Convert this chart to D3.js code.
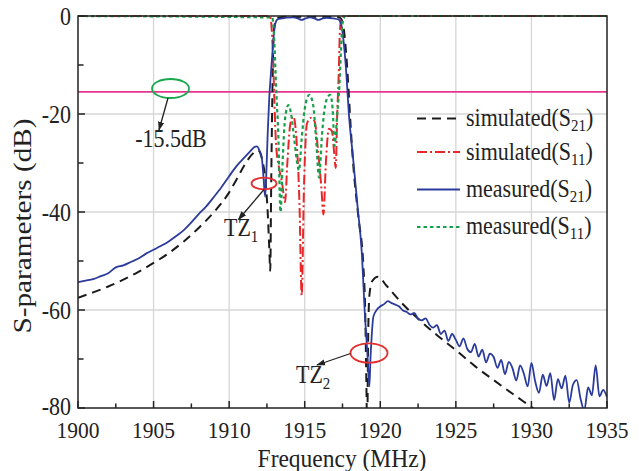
<!DOCTYPE html>
<html><head><meta charset="utf-8">
<script src="https://cdn.jsdelivr.net/npm/d3@7"></script>
<style>body{margin:0;background:#fff}</style></head>
<body><svg id="c" width="639" height="471"></svg>
<script>
// ---------- data ----------
const xTicks = [1900,1905,1910,1915,1920,1925,1930,1935];
const yTicks = [0,-20,-40,-60,-80];
const refLevel = -15.5;
const legendNames = ["simulated","simulated","measured","measured"];
const legendSubs = ["21","11","21","11"];

const simS21 = [[1900,-57.5],[1901,-56.4],[1902,-55.2],[1903,-53.8],[1904,-52.2],[1905,-50.4],[1906,-48.4],[1907,-46.0],[1908,-43.2],[1909,-40.0],[1910,-36.0],[1910.5,-33.3],[1911,-30.5],[1911.5,-28.3],[1911.9,-27.4],[1912.2,-29.5],[1912.4,-33.5],[1912.55,-40],[1912.65,-47],[1912.72,-52],[1912.78,-35],[1912.85,-18],[1912.92,-6],[1913.0,-2],[1913.15,-0.5],[1913.5,-0.2],[1914,-0.15],[1914.5,-0.2],[1915,-0.15],[1915.5,-0.2],[1916,-0.15],[1916.5,-0.2],[1917,-0.2],[1917.3,-0.3],[1917.45,-0.8],[1917.6,-3],[1917.75,-8],[1917.9,-15],[1918.0,-20.5],[1918.22,-30.7],[1918.55,-41],[1918.88,-51],[1919.0,-60],[1919.08,-75],[1919.13,-85],[1919.2,-65],[1919.28,-57],[1919.45,-54.2],[1919.85,-53.2],[1920.4,-55],[1921.4,-58.5],[1922.4,-61.5],[1923.7,-65],[1925,-68.2],[1926.2,-71.3],[1927.5,-74.3],[1928.8,-77.2],[1930,-79.8],[1931,-82]];

const simS11 = [[1900,0],[1912.7,0],[1912.8,-2],[1912.9,-8],[1913.0,-18],[1913.1,-26],[1913.3,-31],[1913.5,-34],[1913.7,-38],[1913.85,-30],[1914.05,-22],[1914.25,-20.5],[1914.45,-25],[1914.65,-38],[1914.8,-57],[1914.95,-35],[1915.15,-22],[1915.4,-20.8],[1915.65,-21.5],[1915.9,-28],[1916.1,-35],[1916.24,-40.5],[1916.4,-30],[1916.6,-23],[1916.8,-23.5],[1916.95,-28],[1917.05,-31],[1917.15,-20],[1917.25,-12],[1917.33,-3],[1917.45,-0.5],[1917.6,0],[1935,0]];

const measS21 = [[1900,-54.3],[1900.5,-54.0],[1901,-53.7],[1901.5,-53.1],[1902,-52.5],[1902.5,-51.3],[1903,-50.9],[1903.5,-50.2],[1904,-49.5],[1904.5,-48.5],[1905,-47.7],[1905.5,-46.9],[1906,-46.0],[1906.5,-44.9],[1907,-43.7],[1907.5,-42.1],[1908,-40.4],[1908.5,-38.8],[1909,-36.9],[1909.5,-34.9],[1910,-32.7],[1910.5,-30.6],[1911,-28.9],[1911.4,-27.6],[1911.65,-26.8],[1911.83,-26.6],[1912.0,-27.4],[1912.16,-28.9],[1912.27,-32.8],[1912.38,-36.9],[1912.45,-33],[1912.55,-24],[1912.65,-17],[1912.78,-11],[1912.9,-6],[1913.0,-2.5],[1913.1,-1.1],[1913.2,-0.7],[1913.5,-0.5],[1913.8,-0.35],[1914.25,-0.3],[1914.55,-0.5],[1914.8,-0.8],[1915.05,-0.5],[1915.35,-0.3],[1915.65,-0.5],[1915.9,-0.8],[1916.2,-0.5],[1916.45,-0.4],[1916.9,-0.5],[1917.23,-0.7],[1917.35,-1.2],[1917.45,-2.2],[1917.6,-6],[1917.72,-10.3],[1917.82,-15],[1917.9,-19],[1918.2,-29],[1918.5,-39],[1918.77,-48],[1918.99,-61.4],[1919.15,-69],[1919.28,-75.6],[1919.35,-70],[1919.43,-65.4],[1919.54,-61.4],[1919.76,-60],[1919.99,-59.3],
[1920.25,-58.8],[1920.5,-58.2],[1920.75,-58.6],[1921.0,-58.9],[1921.25,-59.3],[1921.5,-60.1],[1921.75,-60.4],[1922.0,-60.9],[1922.25,-60.6],[1922.5,-61.8],[1922.75,-62.1],[1923.0,-61.7],[1923.25,-63.0],[1923.5,-63.6],[1923.75,-63.1],[1924.0,-64.9],[1924.25,-64.2],[1924.5,-66.3],[1924.75,-64.9],[1925.0,-66.1],[1925.25,-67.4],[1925.5,-65.8],[1925.75,-67.9],[1926.0,-68.6],[1926.25,-66.9],[1926.5,-69.5],[1926.75,-68.1],[1927.0,-70.7],[1927.25,-68.9],[1927.5,-69.6],[1927.75,-71.8],[1928.0,-70.2],[1928.25,-73.1],[1928.5,-70.6],[1928.75,-71.9],[1929.0,-74.4],[1929.25,-71.3],[1929.5,-73.0],[1929.75,-75.6],[1930.0,-70.8],[1930.25,-74.6],[1930.5,-76.9],[1930.75,-73.2],[1931.0,-75.5],[1931.25,-72.9],[1931.5,-78.4],[1931.75,-74.1],[1932.0,-76.0],[1932.25,-73.4],[1932.5,-78.9],[1932.75,-75.2],[1933.0,-74.3],[1933.25,-78.1],[1933.5,-80.5],[1933.75,-75.8],[1934.0,-77.4],[1934.25,-71.3],[1934.5,-77.6],[1934.75,-76.3],[1935.0,-77.8]];

const measS11 = [[1900,0],[1912.85,-0.3],[1912.9,-1],[1913.0,-6],[1913.1,-14],[1913.25,-24],[1913.4,-40],[1913.55,-29],[1913.7,-21],[1913.92,-18.2],[1914.1,-20],[1914.3,-25],[1914.5,-30],[1914.62,-31.5],[1914.8,-25],[1915.0,-19],[1915.3,-16.1],[1915.55,-18],[1915.75,-25],[1915.95,-33],[1916.15,-24],[1916.4,-17.5],[1916.68,-16.1],[1916.85,-19],[1916.97,-26.5],[1917.15,-20],[1917.3,-14],[1917.4,-7],[1917.5,-1.5],[1917.6,-0.3],[1917.7,0],[1935,0]];

// ---------- layout ----------
const L=78, R=607, T=16, B=408, SY=1.15;
const FONT = "'Liberation Serif','Times New Roman',serif";
const svg = d3.select("#c");
const x = d3.scaleLinear().domain([1900,1935]).range([L,R]);
const y = d3.scaleLinear().domain([-80,0]).range([B,T]);

const C = {black:"#1b1b1b", red:"#e8272a", blue:"#2a3b9b", green:"#16a04c", mag:"#e6358c"};
const styles = [
  {data:simS21, color:C.black, dash:"9,6", w:2},
  {data:simS11, color:C.red, dash:"10,3,2,3", w:2},
  {data:measS21, color:C.blue, dash:null, w:1.8},
  {data:measS11, color:C.green, dash:"3.5,3", w:2.2}
];

function txt(px, py, str, size, anchor, sub, subSize, sy){
  const g = svg.append("g").attr("transform",`translate(${px},${py}) scale(1,${sy||SY})`);
  const t = g.append("text").attr("font-family",FONT).attr("font-size",size)
    .attr("text-anchor",anchor||"start").attr("fill","#222");
  t.append("tspan").text(str);
  if(sub){
    t.append("tspan").attr("font-size",subSize||size*0.68).attr("dy",size*0.22).text(sub);
  }
  return t;
}

// defs
const defs = svg.append("defs");
defs.append("clipPath").attr("id","clip").append("rect")
  .attr("x",L).attr("y",T-3).attr("width",R-L).attr("height",B-T+3);
defs.append("marker").attr("id","arr").attr("viewBox","0 0 10 10").attr("refX",9).attr("refY",5)
  .attr("markerWidth",9).attr("markerHeight",9).attr("orient","auto-start-reverse")
  .attr("markerUnits","userSpaceOnUse")
  .append("path").attr("d","M0,1.5 L10,5 L0,8.5 Z").attr("fill","#222");

// grid
const grid = svg.append("g").attr("stroke","#d6d6d6").attr("stroke-width",1.3);
xTicks.filter(d=>d>1900&&d<1935).forEach(d=>grid.append("line").attr("x1",x(d)).attr("x2",x(d)).attr("y1",T).attr("y2",B));
yTicks.filter(d=>d<0&&d>-80).forEach(d=>grid.append("line").attr("x1",L).attr("x2",R).attr("y1",y(d)).attr("y2",y(d)));

// reference line
svg.append("line").attr("x1",L).attr("x2",R).attr("y1",y(refLevel)).attr("y2",y(refLevel))
  .attr("stroke",C.mag).attr("stroke-width",1.8);

// curves
const line = d3.line().x(d=>x(d[0])).y(d=>y(d[1])).curve(d3.curveMonotoneX);
const plot = svg.append("g").attr("clip-path","url(#clip)");
styles.forEach(s=>{
  plot.append("path").attr("d",line(s.data)).attr("fill","none")
    .attr("stroke",s.color).attr("stroke-width",s.w)
    .attr("stroke-dasharray",s.dash).attr("stroke-linejoin","round");
});

// axes (inward ticks)
const ax = svg.append("g").attr("stroke","#222").attr("stroke-width",1.5).attr("fill","none");
ax.append("rect").attr("x",L).attr("y",T).attr("width",R-L).attr("height",B-T);
const xMinor = d3.range(1900,1935.01,2.5);
xMinor.forEach(d=>{
  const major = xTicks.includes(d);
  ax.append("line").attr("x1",x(d)).attr("x2",x(d)).attr("y1",B).attr("y2",B-(major?7:4.5));
});
const yMinor = d3.range(-80,0.01,10);
yMinor.forEach(d=>{
  const major = yTicks.includes(d);
  ax.append("line").attr("x1",L).attr("x2",L+(major?7:5.5)).attr("y1",y(d)).attr("y2",y(d));
});

// tick labels
xTicks.forEach(d=>txt(x(d),437.5,String(d),21.5,"middle",null,null,1.12));
yTicks.forEach(d=>txt(71,y(d)+(d===-80?6.5:8.5),String(d),22,"end"));

// axis titles
txt(342,466.5,"Frequency (MHz)",23.5,"middle",null,null,1.08);
svg.append("g").attr("transform","translate(31,226) rotate(-90) scale(1.17,1)")
  .append("text").attr("font-family",FONT).attr("font-size",25).attr("text-anchor","middle")
  .attr("fill","#222").text("S-parameters (dB)");

// legend
const legY = [118.5,152,189.5,227];
const legBase = [125.5,160,197,234];
styles.forEach((s,i)=>{
  svg.append("line").attr("x1",417).attr("x2",460).attr("y1",legY[i]).attr("y2",legY[i])
    .attr("stroke",s.color).attr("stroke-width",s.w).attr("stroke-dasharray",s.dash);
  const t = txt(466,legBase[i],legendNames[i]+"(S",22,"start");
  t.append("tspan").attr("font-size",15).attr("dy",4.5).text(legendSubs[i]);
  t.append("tspan").attr("dy",-4.5).text(")");
});

// annotations
svg.append("ellipse").attr("cx",170.5).attr("cy",88.5).attr("rx",18.5).attr("ry",9.5)
  .attr("fill","none").attr("stroke","#1aa84f").attr("stroke-width",1.8);
svg.append("line").attr("x1",168).attr("y1",98).attr("x2",159).attr("y2",130)
  .attr("stroke","#222").attr("stroke-width",1.3).attr("marker-end","url(#arr)");
txt(171,147,"-15.5dB",22,"middle");

svg.append("ellipse").attr("cx",264).attr("cy",183.5).attr("rx",12.5).attr("ry",5.8)
  .attr("fill","none").attr("stroke","#e52f2f").attr("stroke-width",1.8);
svg.append("line").attr("x1",264).attr("y1",189.5).attr("x2",238.5).attr("y2",219.5)
  .attr("stroke","#222").attr("stroke-width",1.3).attr("marker-end","url(#arr)");
txt(224,236,"TZ",22,"start","1",15);

svg.append("ellipse").attr("cx",369).attr("cy",353).attr("rx",18.5).attr("ry",9.7)
  .attr("fill","none").attr("stroke","#e52f2f").attr("stroke-width",1.8);
svg.append("line").attr("x1",350.5).attr("y1",353.5).attr("x2",317).attr("y2",365)
  .attr("stroke","#222").attr("stroke-width",1.3).attr("marker-end","url(#arr)");
txt(296,383,"TZ",22,"start","2",15);
</script></body></html>
